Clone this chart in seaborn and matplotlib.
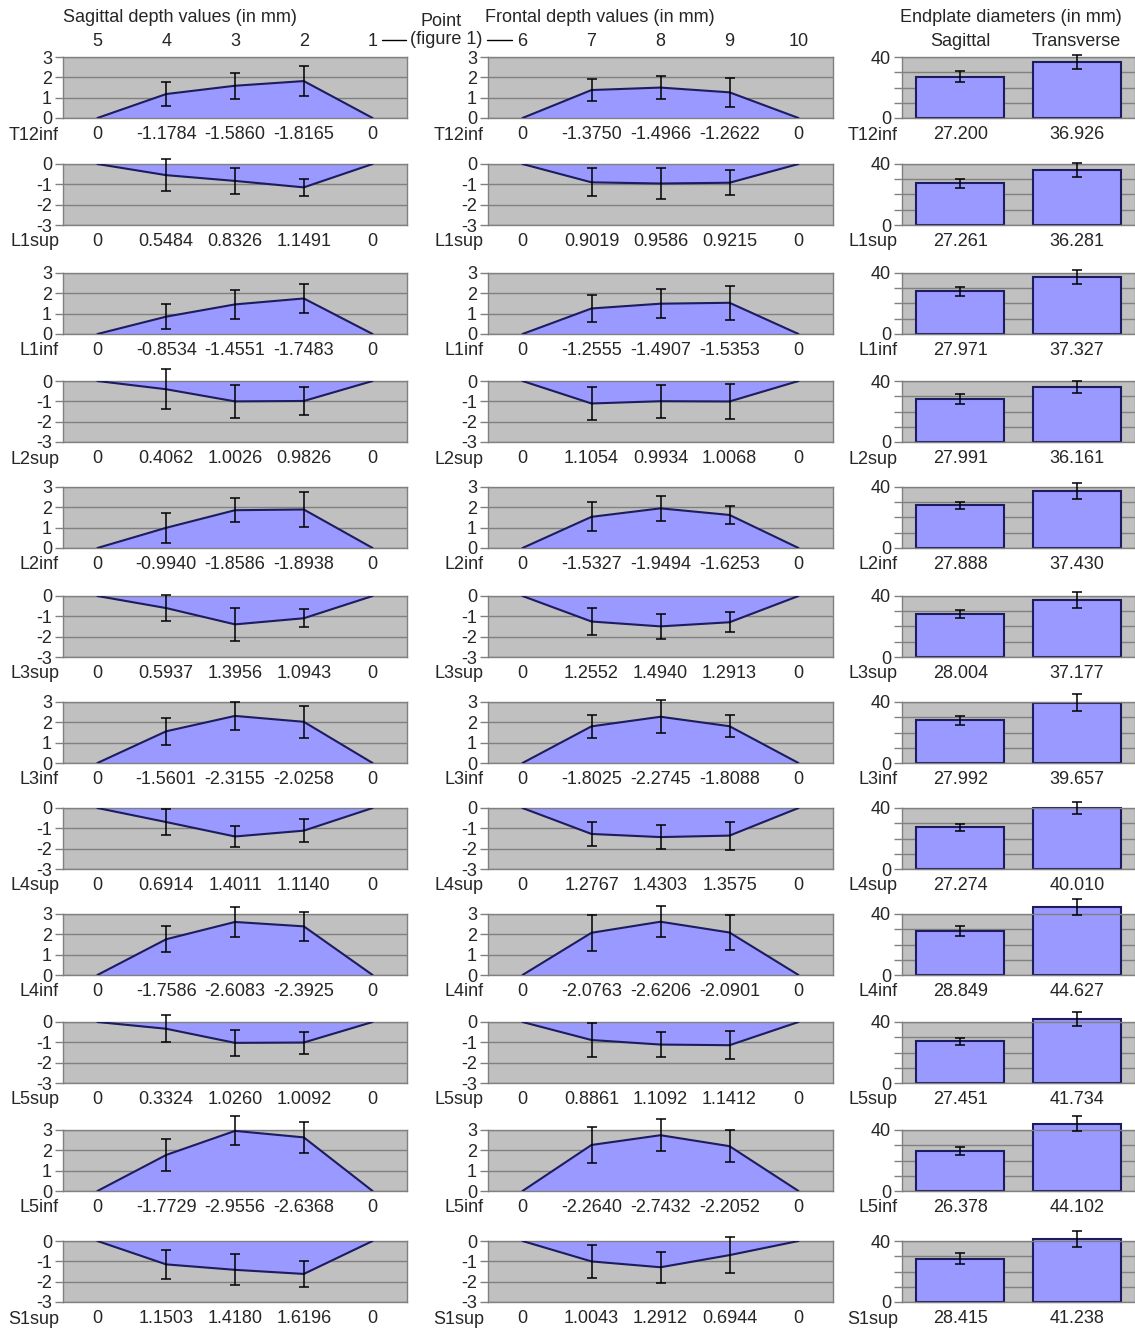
import numpy as np
import pandas as pd
import matplotlib
matplotlib.use("Agg")
import matplotlib.pyplot as plt
import seaborn as sns
from matplotlib.lines import Line2D

sns.set_style("white")
plt.rcParams['font.family'] = ['Liberation Sans', 'DejaVu Sans']
plt.rcParams['axes.unicode_minus'] = False

# ---------------- data ----------------
rows = ["T12inf", "L1sup", "L1inf", "L2sup", "L2inf", "L3sup",
        "L3inf", "L4sup", "L4inf", "L5sup", "L5inf", "S1sup"]

sag_points = ["5", "4", "3", "2", "1"]
front_points = ["6", "7", "8", "9", "10"]
dims = ["Sagittal", "Transverse"]

# sagittal depth values at points 4, 3, 2 (points 5 and 1 are 0)
sag_vals = [
    [-1.1784, -1.5860, -1.8165],
    [0.5484, 0.8326, 1.1491],
    [-0.8534, -1.4551, -1.7483],
    [0.4062, 1.0026, 0.9826],
    [-0.9940, -1.8586, -1.8938],
    [0.5937, 1.3956, 1.0943],
    [-1.5601, -2.3155, -2.0258],
    [0.6914, 1.4011, 1.1140],
    [-1.7586, -2.6083, -2.3925],
    [0.3324, 1.0260, 1.0092],
    [-1.7729, -2.9556, -2.6368],
    [1.1503, 1.4180, 1.6196],
]
sag_sd = [
    [0.59, 0.64, 0.73],
    [0.79, 0.65, 0.43],
    [0.60, 0.70, 0.70],
    [0.98, 0.80, 0.70],
    [0.75, 0.60, 0.86],
    [0.65, 0.80, 0.44],
    [0.66, 0.67, 0.78],
    [0.65, 0.54, 0.58],
    [0.64, 0.72, 0.70],
    [0.67, 0.64, 0.54],
    [0.80, 0.71, 0.76],
    [0.70, 0.77, 0.66],
]

# frontal depth values at points 7, 8, 9 (points 6 and 10 are 0)
front_vals = [
    [-1.3750, -1.4966, -1.2622],
    [0.9019, 0.9586, 0.9215],
    [-1.2555, -1.4907, -1.5353],
    [1.1054, 0.9934, 1.0068],
    [-1.5327, -1.9494, -1.6253],
    [1.2552, 1.4940, 1.2913],
    [-1.8025, -2.2745, -1.8088],
    [1.2767, 1.4303, 1.3575],
    [-2.0763, -2.6206, -2.0901],
    [0.8861, 1.1092, 1.1412],
    [-2.2640, -2.7432, -2.2052],
    [1.0043, 1.2912, 0.6944],
]
front_sd = [
    [0.53, 0.56, 0.72],
    [0.69, 0.74, 0.62],
    [0.66, 0.72, 0.83],
    [0.81, 0.81, 0.84],
    [0.71, 0.60, 0.45],
    [0.65, 0.61, 0.48],
    [0.55, 0.80, 0.55],
    [0.57, 0.60, 0.69],
    [0.88, 0.75, 0.84],
    [0.84, 0.60, 0.68],
    [0.90, 0.79, 0.80],
    [0.83, 0.77, 0.88],
]

# endplate diameters
diam_sag = [27.200, 27.261, 27.971, 27.991, 27.888, 28.004,
            27.992, 27.274, 28.849, 27.451, 26.378, 28.415]
diam_trans = [36.926, 36.281, 37.327, 36.161, 37.430, 37.177,
              39.657, 40.010, 44.627, 41.734, 44.102, 41.238]
diam_sag_sd = [3.4, 3.0, 3.0, 3.2, 2.6, 2.6, 2.8, 2.4, 3.5, 2.3, 2.7, 3.4]
diam_trans_sd = [4.6, 4.5, 4.8, 3.8, 5.0, 5.2, 5.5, 4.0, 5.1, 4.6, 5.0, 5.1]

# ---------------- style ----------------
FILL = "#9999FF"
NAVY = "#1C1C5E"
BG = "#C0C0C0"
GRID = "#808080"
FS = 13

W, H = 1135, 1332
fig = plt.figure(figsize=(W / 100, H / 100), dpi=100)


def rect(x0, y0, x1, y1):
    return [x0 / W, 1 - y1 / H, (x1 - x0) / W, (y1 - y0) / H]


row_tops = [57, 164, 273, 381, 487, 596, 702, 808, 914, 1022, 1130, 1241]
row_h = 61
cols = [(63, 407), (488, 833), (902, 1135)]


def style_axes(ax):
    ax.set_facecolor(BG)
    for s in ax.spines.values():
        s.set_color(GRID)
        s.set_linewidth(1)
    ax.yaxis.grid(True, color=GRID, lw=1)
    ax.xaxis.grid(False)
    ax.set_axisbelow(True)
    ax.tick_params(axis='y', which='both', left=True, length=6, width=1,
                   color=GRID, pad=2, labelsize=FS)
    ax.tick_params(axis='x', length=0, pad=6, labelsize=FS)
    ax.set_xlabel("")
    ax.set_ylabel("")


def row_name(ax, name):
    ax.annotate(name, xy=(0, 0), xycoords='axes fraction',
                xytext=(-4, -17), textcoords='offset pixels',
                ha='right', va='center', fontsize=FS)


def line_panel(ax, vals, sds, name, top_labels=None):
    x = np.arange(5)
    y = np.array([0.0] + [-v for v in vals] + [0.0])
    labels = ["0"] + [f"{v:.4f}" for v in vals] + ["0"]
    positive = y.sum() > 0
    ax.fill_between(x, 0, y, color=FILL, lw=0, zorder=2)
    sns.lineplot(x=x, y=y, ax=ax, color=NAVY, lw=1.5, zorder=3)
    eb = ax.errorbar(x[1:4], y[1:4], yerr=sds, fmt='none', ecolor='black',
                     elinewidth=1.1, capsize=3.5, capthick=1.1, zorder=4)
    for a in eb.get_children():
        a.set_clip_on(False)
    ax.set_xlim(-0.5, 4.5)
    if positive:
        ax.set_ylim(0, 3)
        ax.set_yticks([0, 1, 2, 3])
    else:
        ax.set_ylim(-3, 0)
        ax.set_yticks([-3, -2, -1, 0])
    ax.set_yticklabels([str(t) for t in ax.get_yticks().astype(int)])
    ax.set_xticks(x)
    ax.set_xticklabels(labels)
    style_axes(ax)
    row_name(ax, name)
    if top_labels is not None:
        sec = ax.secondary_xaxis('top')
        sec.set_xticks(x)
        sec.set_xticklabels(top_labels)
        sec.tick_params(length=0, pad=5, labelsize=FS)
        sec.spines['top'].set_visible(False)


def bar_panel(ax, s, t, ssd, tsd, name, top=False):
    df = pd.DataFrame({"dim": dims, "val": [s, t]})
    sns.barplot(data=df, x="dim", y="val", ax=ax, color=FILL, saturation=1,
                edgecolor=NAVY, linewidth=1.5, width=0.755, errorbar=None,
                zorder=2)
    for p in ax.patches:
        p.set_clip_on(False)
    eb = ax.errorbar([0, 1], [s, t], yerr=[ssd, tsd], fmt='none',
                     ecolor='black', elinewidth=1.1, capsize=3.5,
                     capthick=1.1, zorder=4)
    for a in eb.get_children():
        a.set_clip_on(False)
    ax.set_xlim(-0.5, 1.5)
    ax.set_ylim(0, 40)
    ax.set_yticks([0, 10, 20, 30, 40])
    ax.set_yticklabels(["0", "", "", "", "40"])
    ax.set_xticks([0, 1])
    ax.set_xticklabels([f"{s:.3f}", f"{t:.3f}"])
    style_axes(ax)
    row_name(ax, name)
    if top:
        sec = ax.secondary_xaxis('top')
        sec.set_xticks([0, 1])
        sec.set_xticklabels(dims)
        sec.tick_params(length=0, pad=5, labelsize=FS)
        sec.spines['top'].set_visible(False)


for i, name in enumerate(rows):
    y0 = row_tops[i]
    y1 = y0 + row_h
    axL = fig.add_axes(rect(cols[0][0], y0, cols[0][1], y1))
    line_panel(axL, sag_vals[i], sag_sd[i], name,
               sag_points if i == 0 else None)
    axM = fig.add_axes(rect(cols[1][0], y0, cols[1][1], y1))
    line_panel(axM, front_vals[i], front_sd[i], name,
               front_points if i == 0 else None)
    axB = fig.add_axes(rect(cols[2][0], y0, cols[2][1], y1))
    bar_panel(axB, diam_sag[i], diam_trans[i], diam_sag_sd[i],
              diam_trans_sd[i], name, top=(i == 0))

# headers
fig.text(180 / W, 1 - 18 / H, "Sagittal depth values (in mm)", ha='center',
         va='center', fontsize=FS)
fig.text(600 / W, 1 - 18 / H, "Frontal depth values (in mm)", ha='center',
         va='center', fontsize=FS)
fig.text(1011 / W, 1 - 18 / H, "Endplate diameters (in mm)", ha='center',
         va='center', fontsize=FS)
fig.text(441 / W, 1 - 21 / H, "Point", ha='center', va='center', fontsize=FS)
fig.text(446 / W, 1 - 40 / H, "(figure 1)", ha='center', va='center',
         fontsize=FS)
for xa, xb in [(382, 406), (487, 512)]:
    fig.add_artist(Line2D([xa / W, xb / W], [1 - 40 / H, 1 - 40 / H],
                          color='black', lw=1))

fig.savefig("out.png", dpi=100)
